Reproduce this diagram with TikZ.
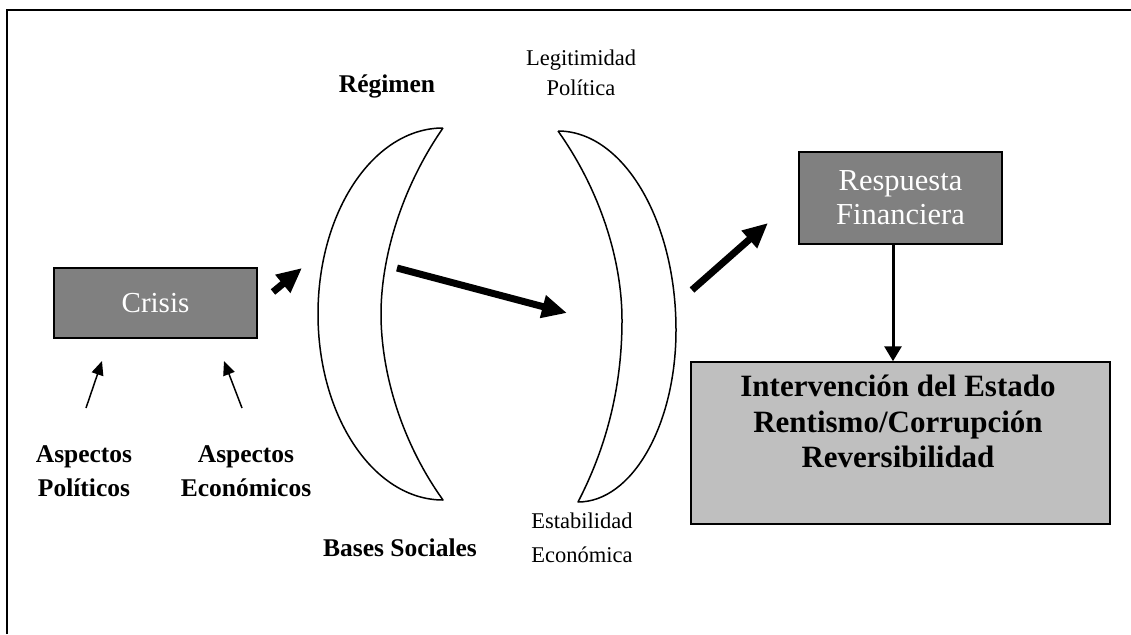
\documentclass[tikz,border=0pt]{standalone}
\usepackage{fontspec}
\setmainfont{Liberation Serif}
\usetikzlibrary{arrows.meta}
\tikzset{
  darkbox/.style={draw=black, line width=1.5pt, fill=black!50, text=white, align=center, inner sep=0pt},
  lightbox/.style={draw=black, line width=1.5pt, fill=black!25, inner sep=0pt},
  lens/.style={draw=black, line width=1.5pt, line join=round},
  boldlabel/.style={align=center, inner sep=0pt, font=\fontsize{25.5}{34}\selectfont\bfseries},
  plainlabel/.style={align=center, inner sep=0pt, font=\fontsize{22.5}{30}\selectfont},
  bigarrow/.style={line width=7pt, -{Triangle[length=25pt,width=22pt]}},
  smallarrow/.style={line width=1.5pt, -{Triangle[length=14pt,width=12pt]}},
  downarrow/.style={line width=3pt, -{Triangle[length=15pt,width=17pt]}}
}
\begin{document}
\begin{tikzpicture}[x=1pt,y=-1pt]
% Define the canvas and its frame
\useasboundingbox (0,0) rectangle (1131,634);
\draw[line width=2pt] (7,634) -- (7,10) -- (1131,10);
% Define the tips of the two lenses
\coordinate (LT) at (443,128);
\coordinate (LB) at (443,500);
\coordinate (RT) at (558,131);
\coordinate (RB) at (578,502);
% Draw the lenses
\draw[lens] (LT) .. controls (374,128) and (318,211) .. (318,314)
  .. controls (318,417) and (374,500) .. (LB)
  .. controls (400,440) and (381,370) .. (381,314)
  .. controls (381,260) and (400,190) .. (LT);
\draw[lens] (RT) .. controls (623,131) and (676,220) .. (676,330)
  .. controls (676,425) and (632,502) .. (RB)
  .. controls (605,450) and (622,390) .. (622,320)
  .. controls (622,260) and (600,190) .. (RT);
% Draw the boxes
\node[darkbox, minimum width=203pt, minimum height=70pt, font=\fontsize{29}{32}\selectfont] (crisis) at (155.5,303) {Crisis};
\node[darkbox, minimum width=203pt, minimum height=92pt, font=\fontsize{30.5}{34}\selectfont] (resp) at (900.5,198) {Respuesta\\Financiera};
\node[lightbox, minimum width=419pt, minimum height=162pt] (estado) at (900.5,443) {};
\node[boldlabel, font=\fontsize{31}{35.5}\selectfont\bfseries, anchor=north] (estadotext) at (898,375) {Intervención del Estado\\Rentismo/Corrupción\\Reversibilidad};
% Label the lenses and the aspects
\node[boldlabel] (regimen) at (387,86) {Régimen};
\node[boldlabel] (bases) at (400,548) {Bases Sociales};
\node[plainlabel] (legit) at (581,73) {Legitimidad\\Política};
\node[plainlabel, font=\fontsize{22.5}{34}\selectfont] (estab) at (582,538) {Estabilidad\\Económica};
\node[boldlabel] (aspol) at (84,471) {Aspectos\\Políticos};
\node[boldlabel] (aseco) at (246,471) {Aspectos\\Económicos};
% Define the free ends of the arrows
\coordinate (pol1) at (86,408);
\coordinate (pol2) at (102,361);
\coordinate (eco1) at (242,408);
\coordinate (eco2) at (224,361);
\coordinate (cri1) at (273,292);
\coordinate (cri2) at (302,268);
\coordinate (mid1) at (397,268);
\coordinate (mid2) at (567,313);
\coordinate (out1) at (692,290);
\coordinate (out2) at (768,223);
% Draw the arrows
\draw[smallarrow] (pol1) -- (pol2);
\draw[smallarrow] (eco1) -- (eco2);
\draw[bigarrow] (cri1) -- (cri2);
\draw[bigarrow] (mid1) -- (mid2);
\draw[bigarrow] (out1) -- (out2);
\draw[downarrow] ([xshift=-7.5pt]resp.south) -- ([xshift=-7.5pt]estado.north);
\end{tikzpicture}
\end{document}
